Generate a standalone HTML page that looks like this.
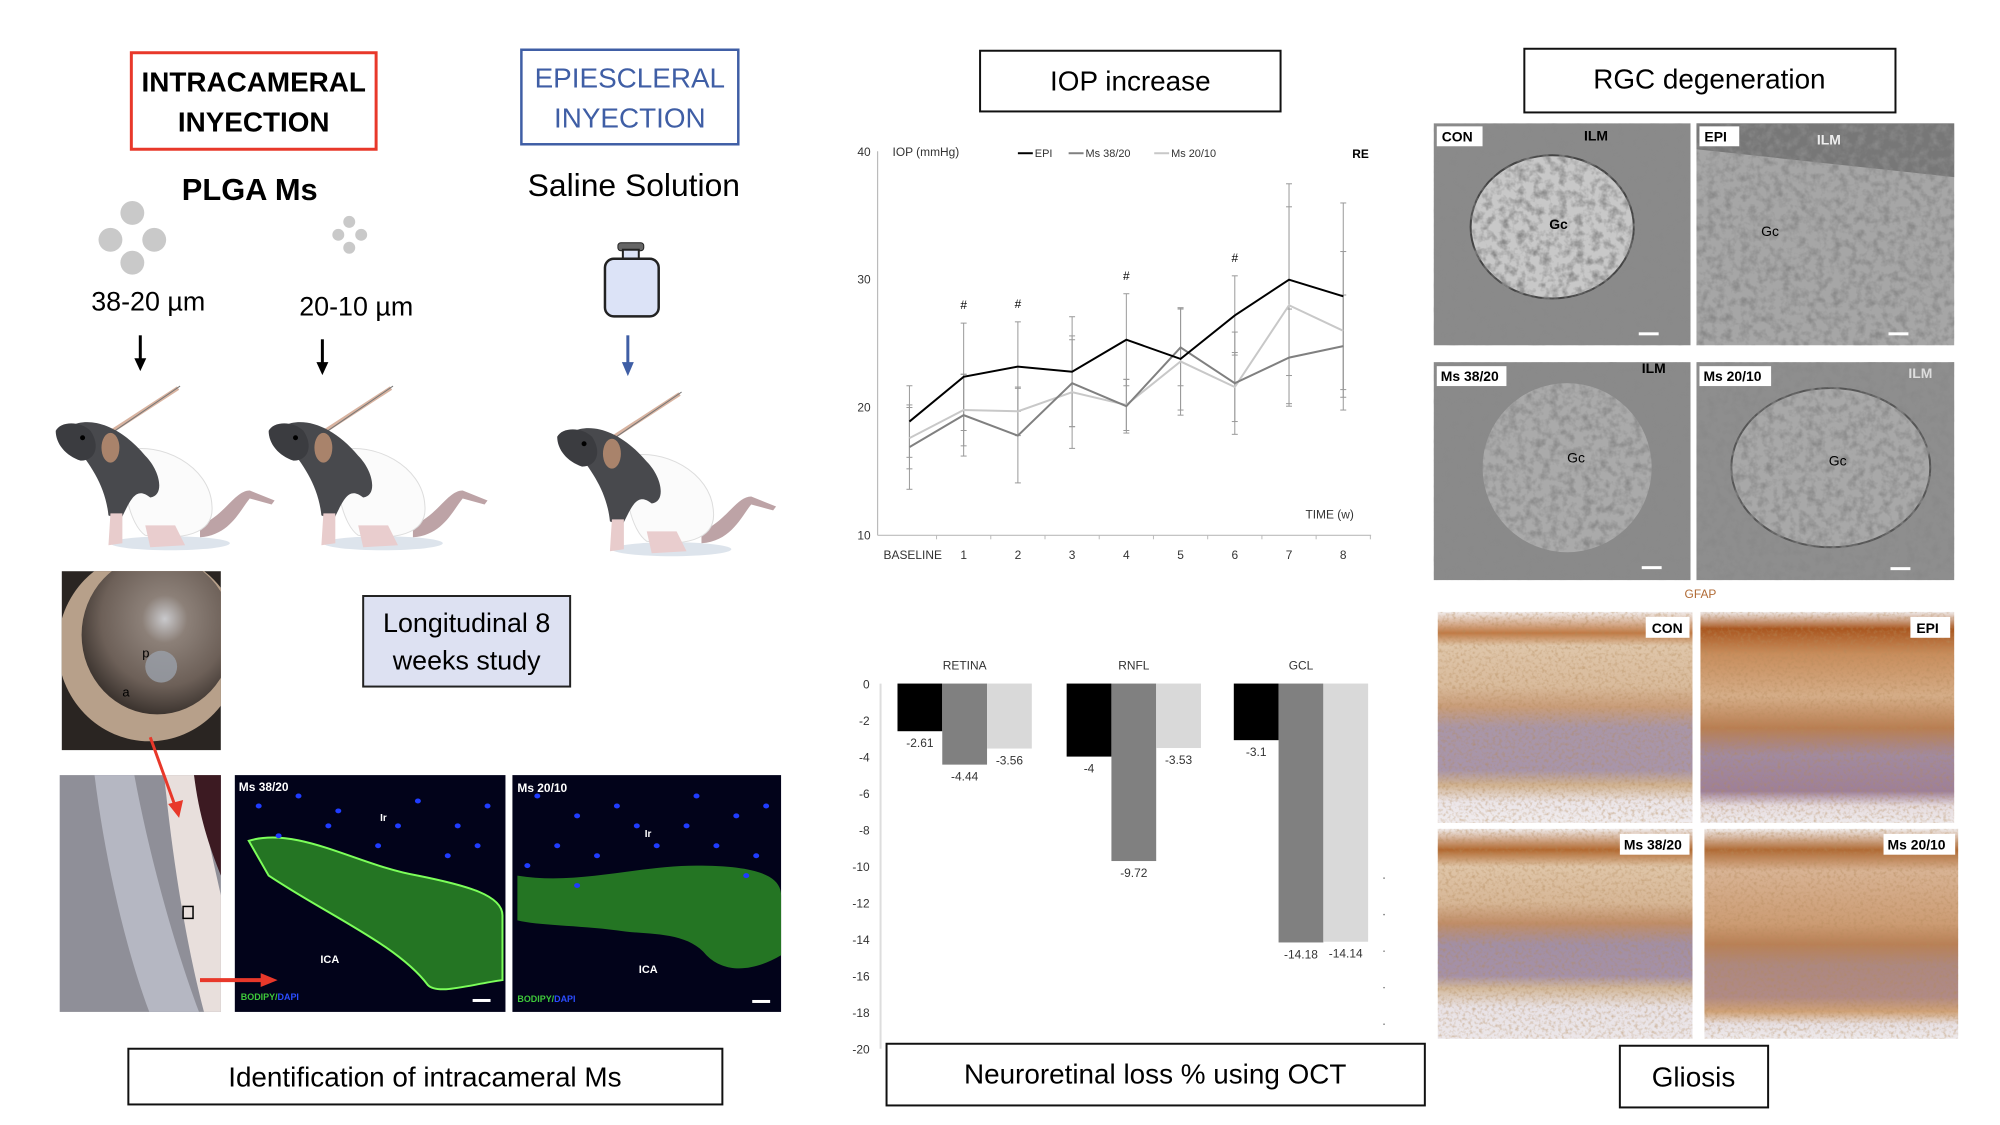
<!DOCTYPE html>
<html><head><meta charset="utf-8">
<style>
html,body{margin:0;padding:0;background:#fff;}
svg{display:block;font-family:"Liberation Sans",sans-serif;}
</style></head>
<body>
<svg id="root" width="2000" height="1125" viewBox="0 0 2000 1125">
<defs>
  <filter id="noiseGray" x="0" y="0" width="100%" height="100%">
    <feTurbulence type="fractalNoise" baseFrequency="0.12" numOctaves="3" seed="3"/>
    <feColorMatrix type="matrix" values="0 0 0 0 0.25  0 0 0 0 0.25  0 0 0 0 0.25  2.2 0 0 0 -0.9"/>
    <feComposite in2="SourceGraphic" operator="in"/>
  </filter>
  <filter id="noiseFine" x="0" y="0" width="100%" height="100%">
    <feTurbulence type="fractalNoise" baseFrequency="0.3" numOctaves="2" seed="7"/>
    <feColorMatrix type="matrix" values="0 0 0 0 0.45  0 0 0 0 0.25  0 0 0 0 0.1  1.2 0 0 0 -0.55"/>
    <feComposite in2="SourceGraphic" operator="in"/>
  </filter>
  <clipPath id="eyeClip"><rect x="62" y="574" width="160" height="180"/></clipPath>
  <linearGradient id="ihcCon" x1="0" y1="0" x2="0" y2="1">
    <stop offset="0" stop-color="#f2eeee"/><stop offset="0.1" stop-color="#c07a45"/>
    <stop offset="0.16" stop-color="#dfc6aa"/><stop offset="0.35" stop-color="#d9bb9c"/>
    <stop offset="0.45" stop-color="#c99d7a"/><stop offset="0.55" stop-color="#a996a8"/>
    <stop offset="0.75" stop-color="#a895aa"/><stop offset="0.82" stop-color="#d1b392"/>
    <stop offset="0.9" stop-color="#ebe5e8"/><stop offset="1" stop-color="#f0ecee"/>
  </linearGradient>
  <linearGradient id="ihcEpi" x1="0" y1="0" x2="0" y2="1">
    <stop offset="0" stop-color="#f0ecec"/><stop offset="0.08" stop-color="#a9561f"/>
    <stop offset="0.2" stop-color="#c88d5c"/><stop offset="0.4" stop-color="#d5ad88"/>
    <stop offset="0.55" stop-color="#b97e52"/><stop offset="0.68" stop-color="#a18aa0"/>
    <stop offset="0.85" stop-color="#9e8098"/><stop offset="0.92" stop-color="#e6dcdf"/>
    <stop offset="1" stop-color="#eeeaec"/>
  </linearGradient>
  <linearGradient id="ihcMs20" x1="0" y1="0" x2="0" y2="1">
    <stop offset="0" stop-color="#f0ecec"/><stop offset="0.1" stop-color="#b06a34"/>
    <stop offset="0.2" stop-color="#d8b394"/><stop offset="0.45" stop-color="#cc9c74"/>
    <stop offset="0.55" stop-color="#b98056"/><stop offset="0.65" stop-color="#ad8880"/>
    <stop offset="0.8" stop-color="#b08a86"/><stop offset="0.87" stop-color="#d0a277"/>
    <stop offset="0.93" stop-color="#e7e0e3"/><stop offset="1" stop-color="#eeeaec"/>
  </linearGradient>
  <linearGradient id="ihcMs38" x1="0" y1="0" x2="0" y2="1">
    <stop offset="0" stop-color="#f0ecec"/><stop offset="0.1" stop-color="#b2682f"/>
    <stop offset="0.18" stop-color="#dfc5a8"/><stop offset="0.35" stop-color="#d7b797"/>
    <stop offset="0.45" stop-color="#c08d68"/><stop offset="0.55" stop-color="#a28fa5"/>
    <stop offset="0.7" stop-color="#a591a8"/><stop offset="0.76" stop-color="#d3b99c"/>
    <stop offset="0.85" stop-color="#e8e2e6"/><stop offset="1" stop-color="#ece7ea"/>
  </linearGradient>
  <radialGradient id="eyeG" cx="0.55" cy="0.4" r="0.6">
    <stop offset="0" stop-color="#c9c9cc"/><stop offset="0.25" stop-color="#8c8078"/>
    <stop offset="0.7" stop-color="#6d6058"/><stop offset="1" stop-color="#3d3530"/>
  </radialGradient>
  <g id="rat">
    <line x1="62" y1="45" x2="128" y2="2" stroke="#d8b3a0" stroke-width="4"/>
    <line x1="60" y1="48" x2="130" y2="0" stroke="#777" stroke-width="1"/>
    <ellipse cx="120" cy="158" rx="60" ry="7" fill="#dde4ec"/>
    <path d="M150 140 C175 130 185 105 200 105 L225 115 L222 119 L200 113 C190 125 180 150 150 152 Z" fill="#bda3a6"/>
    <path d="M75 65 C110 55 160 80 162 120 C165 150 130 155 95 150 C80 140 70 100 75 65 Z" fill="#fbfbfb" stroke="#ddd"/>
    <path d="M20 40 C40 30 70 40 95 70 C110 85 115 110 100 112 C85 100 80 115 70 135 L58 130 C55 100 40 80 25 60 Z" fill="#48494d"/>
    <path d="M5 45 C10 35 30 35 40 45 C50 60 45 75 30 75 C15 70 5 58 5 45Z" fill="#3b3c40"/>
    <ellipse cx="60" cy="62" rx="9" ry="15" fill="#a9836b"/>
    <path d="M60 128 L72 128 L72 158 L58 160 Z" fill="#e8cccc"/>
    <path d="M95 140 L125 140 L135 160 L100 162 Z" fill="#e9cdce"/>
    <circle cx="32" cy="52" r="2.5" fill="#000"/>
  </g>
</defs>
<g transform="scale(0.995)">

<!-- LEFT PANEL -->
<g>
  <rect x="132" y="53" width="246" height="97" fill="#fff" stroke="#e8382a" stroke-width="3"/>
  <text x="255" y="92" text-anchor="middle" font-size="28" font-weight="bold">INTRACAMERAL</text>
  <text x="255" y="132" text-anchor="middle" font-size="28" font-weight="bold">INYECTION</text>
  <rect x="524" y="50" width="218" height="95" fill="#fff" stroke="#3f5ea5" stroke-width="2.5"/>
  <text x="633" y="88" text-anchor="middle" font-size="28" fill="#3f5ea5">EPIESCLERAL</text>
  <text x="633" y="128" text-anchor="middle" font-size="28" fill="#3f5ea5">INYECTION</text>
  <text x="251" y="201" text-anchor="middle" font-size="31" font-weight="bold">PLGA Ms</text>
  <text x="637" y="197" text-anchor="middle" font-size="32">Saline Solution</text>
  <g fill="#c9c9c9">
    <circle cx="133" cy="214" r="12"/><circle cx="111" cy="241" r="12"/><circle cx="155" cy="241" r="12"/><circle cx="133" cy="264" r="12"/>
  </g>
  <g fill="#c9c9c9">
    <circle cx="351" cy="223" r="6"/><circle cx="340" cy="236" r="6"/><circle cx="363" cy="236" r="6"/><circle cx="351" cy="249" r="6"/>
  </g>
  <text x="149" y="312" text-anchor="middle" font-size="27">38-20 µm</text>
  <text x="358" y="317" text-anchor="middle" font-size="27">20-10 µm</text>
  <g>
    <rect x="621" y="244" width="26" height="8" rx="3" fill="#666" stroke="#222"/>
    <rect x="626" y="251" width="16" height="10" fill="#dce3f7" stroke="#222" stroke-width="2"/>
    <rect x="608" y="260" width="54" height="58" rx="9" fill="#dce3f7" stroke="#222" stroke-width="2.5"/>
  </g>
  <g>
    <line x1="141" y1="337" x2="141" y2="362" stroke="#000" stroke-width="3"/><polygon points="135,360 147,360 141,373" fill="#000"/>
    <line x1="324" y1="341" x2="324" y2="366" stroke="#000" stroke-width="3"/><polygon points="318,364 330,364 324,377" fill="#000"/>
    <line x1="631" y1="337" x2="631" y2="366" stroke="#3f5ea5" stroke-width="3"/><polygon points="625,364 637,364 631,378" fill="#3f5ea5"/>
  </g>
  <use href="#rat" x="51" y="388"/>
  <use href="#rat" x="265" y="388"/>
  <use href="#rat" x="555" y="394"/>

  <g clip-path="url(#eyeClip)">
    <rect x="62" y="574" width="160" height="180" fill="#2a2522"/>
    <ellipse cx="150" cy="650" rx="92" ry="95" fill="#b7a08a"/>
    <ellipse cx="158" cy="638" rx="76" ry="80" fill="url(#eyeG)"/>
    <circle cx="162" cy="670" r="16" fill="#9aa0aa" opacity="0.8"/>
    <text x="143" y="661" font-size="13">p</text>
    <text x="123" y="700" font-size="13">a</text>
  </g>
  <g>
    <rect x="60" y="779" width="162" height="238" fill="#8f8f98"/>
    <path d="M95 779 L135 779 C150 860 175 950 200 1017 L150 1017 C125 950 105 860 95 779Z" fill="#b5b7c2"/>
    <path d="M165 779 L195 779 L222 900 L222 1017 L205 1017 C190 960 175 880 165 779Z" fill="#e8dfdc"/>
    <path d="M195 779 L222 779 L222 880 C210 850 200 820 195 779Z" fill="#3c1a22"/>
    <rect x="184" y="911" width="10" height="12" fill="none" stroke="#000" stroke-width="1.5"/>
  </g>
  <g>
    <rect x="236" y="779" width="272" height="238" fill="#02031a"/>
    <path d="M250 845 C300 830 360 870 420 880 C470 890 505 900 505 920 L505 985 C470 990 440 1000 430 990 C400 950 330 920 270 880 Z" fill="#2a8a26" opacity="0.85"/>
    <path d="M250 845 C300 830 360 870 420 880 C470 890 505 900 505 920 L505 985 C470 990 440 1000 430 990 C400 950 330 920 270 880 Z" fill="none" stroke="#7cff5a" stroke-width="2"/>
    <text x="240" y="795" font-size="12" font-weight="bold" fill="#fff">Ms 38/20</text>
    <text x="382" y="825" font-size="10" font-weight="bold" fill="#fff">Ir</text>
    <text x="322" y="968" font-size="11" font-weight="bold" fill="#fff">ICA</text>
    <text x="242" y="1005" font-size="9" font-weight="bold" fill="#3ec83a">BODIPY/<tspan fill="#2b4dff">DAPI</tspan></text>
    <rect x="475" y="1004" width="18" height="3" fill="#fff"/>
  </g>
  <g>
    <rect x="515" y="779" width="270" height="238" fill="#02031a"/>
    <path d="M520 880 C580 890 640 870 700 870 C760 870 785 880 785 900 L785 960 C760 975 730 980 710 960 C690 935 650 940 620 935 C580 930 540 930 520 925 Z" fill="#2a8a26" opacity="0.85"/>
    <text x="520" y="796" font-size="12" font-weight="bold" fill="#fff">Ms 20/10</text>
    <text x="648" y="841" font-size="10" font-weight="bold" fill="#fff">Ir</text>
    <text x="642" y="978" font-size="11" font-weight="bold" fill="#fff">ICA</text>
    <text x="520" y="1007" font-size="9" font-weight="bold" fill="#3ec83a">BODIPY/<tspan fill="#2b4dff">DAPI</tspan></text>
    <rect x="756" y="1005" width="18" height="3" fill="#fff"/>
  </g>
  <g id="dapi"></g>
  <g>
    <line x1="151" y1="741" x2="176" y2="810" stroke="#e8382a" stroke-width="3"/><polygon points="169,808 184,804 180,822" fill="#e8382a"/>
    <line x1="201" y1="985" x2="264" y2="985" stroke="#e8382a" stroke-width="4"/><polygon points="262,978 279,985 262,992" fill="#e8382a"/>
  </g>
  <rect x="365" y="599" width="208" height="91" fill="#dde1f2" stroke="#222" stroke-width="2"/>
  <text x="469" y="635" text-anchor="middle" font-size="27">Longitudinal 8</text>
  <text x="469" y="673" text-anchor="middle" font-size="27">weeks study</text>
  <rect x="129" y="1054" width="597" height="56" fill="#fff" stroke="#111" stroke-width="2"/>
  <text x="427" y="1092" text-anchor="middle" font-size="28">Identification of intracameral Ms</text>
</g>

<!-- MIDDLE: IOP chart -->
<rect x="985" y="51" width="302" height="61" fill="#fff" stroke="#111" stroke-width="2"/>
<text x="1136" y="91" text-anchor="middle" font-size="28">IOP increase</text>
<g id="iopChart"></g>

<rect x="891" y="1049" width="541" height="62" fill="#fff" stroke="#111" stroke-width="2"/>
<text x="1161" y="1089" text-anchor="middle" font-size="28">Neuroretinal loss % using OCT</text>
<g id="barChart"></g>

<!-- RIGHT PANEL -->
<rect x="1532" y="49" width="373" height="64" fill="#fff" stroke="#111" stroke-width="2"/>
<text x="1718" y="89" text-anchor="middle" font-size="28">RGC degeneration</text>
<g>
  <g>
    <rect x="1441" y="124" width="258" height="223" fill="#8a8a8a"/>
    <ellipse cx="1560" cy="228" rx="82" ry="72" fill="#c8c8c8" stroke="#444" stroke-width="2"/>
    <rect x="1441" y="124" width="258" height="223" fill="#fff" filter="url(#noiseGray)"/>
    <rect x="1444" y="127" width="46" height="20" fill="#fff"/><text x="1449" y="142" font-size="14" font-weight="bold">CON</text>
    <text x="1592" y="141" font-size="14" font-weight="bold">ILM</text><text x="1557" y="230" font-size="14" font-weight="bold">Gc</text>
    <rect x="1647" y="334" width="20" height="3" fill="#fff"/>
  </g>
  <g>
    <rect x="1705" y="124" width="259" height="223" fill="#a6a6a6"/>
    <path d="M1705 124 L1964 124 L1964 178 L1705 150 Z" fill="#777"/>
    <rect x="1705" y="124" width="259" height="223" fill="#fff" filter="url(#noiseGray)"/>
    <rect x="1708" y="127" width="40" height="20" fill="#fff"/><text x="1713" y="142" font-size="14" font-weight="bold">EPI</text>
    <text x="1826" y="145" font-size="14" font-weight="bold" fill="#eee">ILM</text><text x="1770" y="237" font-size="14">Gc</text>
    <rect x="1898" y="334" width="20" height="3" fill="#fff"/>
  </g>
  <g>
    <rect x="1441" y="364" width="258" height="219" fill="#8a8a8a"/>
    <ellipse cx="1575" cy="470" rx="85" ry="85" fill="#aaaaaa"/>
    <rect x="1441" y="364" width="258" height="219" fill="#fff" filter="url(#noiseGray)"/>
    <rect x="1444" y="368" width="70" height="20" fill="#fff"/><text x="1448" y="383" font-size="14" font-weight="bold">Ms 38/20</text>
    <text x="1650" y="375" font-size="14" font-weight="bold">ILM</text><text x="1575" y="465" font-size="14">Gc</text>
    <rect x="1650" y="569" width="20" height="3" fill="#fff"/>
  </g>
  <g>
    <rect x="1705" y="364" width="259" height="219" fill="#8e8e8e"/>
    <ellipse cx="1840" cy="470" rx="100" ry="80" fill="#a8a8a8" stroke="#555" stroke-width="2"/>
    <rect x="1705" y="364" width="259" height="219" fill="#fff" filter="url(#noiseGray)"/>
    <rect x="1708" y="368" width="72" height="20" fill="#fff"/><text x="1712" y="383" font-size="14" font-weight="bold">Ms 20/10</text>
    <text x="1918" y="380" font-size="14" font-weight="bold" fill="#ddd">ILM</text><text x="1838" y="468" font-size="14">Gc</text>
    <rect x="1900" y="570" width="20" height="3" fill="#fff"/>
  </g>
</g>
<text x="1709" y="601" text-anchor="middle" font-size="12" fill="#b06a34">GFAP</text>
<g>
  <g>
    <rect x="1445" y="615" width="256" height="212" fill="url(#ihcCon)"/>
    <rect x="1445" y="615" width="256" height="212" fill="#fff" filter="url(#noiseFine)"/>
    <rect x="1654" y="620" width="44" height="21" fill="#fff"/><text x="1660" y="636" font-size="14" font-weight="bold">CON</text>
  </g>
  <g>
    <rect x="1709" y="615" width="255" height="212" fill="url(#ihcEpi)"/>
    <rect x="1709" y="615" width="255" height="212" fill="#fff" filter="url(#noiseFine)"/>
    <rect x="1920" y="620" width="40" height="21" fill="#fff"/><text x="1926" y="636" font-size="14" font-weight="bold">EPI</text>
  </g>
  <g>
    <rect x="1445" y="833" width="256" height="211" fill="url(#ihcMs38)"/>
    <rect x="1445" y="833" width="256" height="211" fill="#fff" filter="url(#noiseFine)"/>
    <rect x="1628" y="838" width="70" height="21" fill="#fff"/><text x="1632" y="854" font-size="14" font-weight="bold">Ms 38/20</text>
  </g>
  <g>
    <rect x="1713" y="833" width="255" height="211" fill="url(#ihcMs20)"/>
    <rect x="1713" y="833" width="255" height="211" fill="#fff" filter="url(#noiseFine)"/>
    <rect x="1893" y="838" width="72" height="21" fill="#fff"/><text x="1897" y="854" font-size="14" font-weight="bold">Ms 20/10</text>
  </g>
</g>
<rect x="1628" y="1051" width="149" height="62" fill="#fff" stroke="#111" stroke-width="2"/>
<text x="1702" y="1092" text-anchor="middle" font-size="28">Gliosis</text>
</g>
</svg>

<script>
const NS = "http://www.w3.org/2000/svg";
// IOP line chart data
const weeks = ["BASELINE","1","2","3","4","5","6","7","8"];
const epiValues = [18.9,22.4,23.2,22.8,25.3,23.8,27.2,30.0,28.7];
const ms3820Values = [16.9,19.4,17.8,21.9,20.1,24.7,21.9,23.9,24.8];
const ms2010Values = [17.6,19.8,19.7,21.2,20.2,23.6,21.6,28.0,26.0];
const epiErrors = [2.8,4.2,3.5,4.3,3.6,4.0,3.1,7.5,7.3];
const ms3820Errors = [3.3,3.2,3.7,3.4,2.1,3.0,4.0,3.8,4.0];
const ms2010Errors = [2.4,2.8,1.9,4.4,2.0,4.2,2.7,7.7,6.2];
const yTicks = [10,20,30,40];
const sigWeeks = [1,2,4,6];
// OCT bar chart data
const layers = ["RETINA","RNFL","GCL"];
const epiLoss = [-2.61,-4,-3.1];
const ms3820Loss = [-4.44,-9.72,-14.18];
const ms2010Loss = [-3.56,-3.53,-14.14];
const barTicks = [0,-2,-4,-6,-8,-10,-12,-14,-16,-18,-20];

function mk(tag, attrs, parent, txt){
  const e = document.createElementNS(NS, tag);
  for (const k in attrs) e.setAttribute(k, attrs[k]);
  if (txt !== undefined) e.textContent = txt;
  parent.appendChild(e);
  return e;
}

// ---- IOP chart ----
(function(){
  const g = document.getElementById('iopChart');
  const x0 = 914, dx = 54.5;
  const xS = i => x0 + i*dx;
  const yS = v => 538 - (v-10)*(538-152.6)/30;
  let e = mk('line',{x1:882,y1:152,x2:882,y2:538,stroke:'#bbb','stroke-width':1.2},g);
   
  e = mk('line',{x1:882,y1:538,x2:1378,y2:538,stroke:'#bbb','stroke-width':1.2},g);
   
  yTicks.forEach(t=>{
    const l = mk('text',{x:875,y:yS(t)+4,'text-anchor':'end','font-size':12,fill:'#333'},g,String(t));
     
  });
  weeks.forEach((w,i)=>{
    const l = mk('text',{x:i===0?xS(i)-26:xS(i),y:562,'text-anchor':i===0?'start':'middle','font-size':12,fill:'#333'},g,w);
     
    mk('line',{x1:xS(i)+dx/2,y1:538,x2:xS(i)+dx/2,y2:542,stroke:'#bbb'},g);
  });
  const series = [[ms2010Values,ms2010Errors,'#c8c8c8','ms-20-10'],[ms3820Values,ms3820Errors,'#808080','ms-38-20'],[epiValues,epiErrors,'#000','epi']];
  series.forEach(([vals,errs,col,nm])=>{
    vals.forEach((v,i)=>{
      const b = mk('line',{x1:xS(i),y1:yS(v+errs[i]),x2:xS(i),y2:yS(v-errs[i]),stroke:'#999','stroke-width':1},g);
       
      mk('line',{x1:xS(i)-3,y1:yS(v+errs[i]),x2:xS(i)+3,y2:yS(v+errs[i]),stroke:'#999'},g);
      mk('line',{x1:xS(i)-3,y1:yS(v-errs[i]),x2:xS(i)+3,y2:yS(v-errs[i]),stroke:'#999'},g);
    });
  });
  series.forEach(([vals,errs,col,nm])=>{
    const p = mk('polyline',{points:vals.map((v,i)=>xS(i)+','+yS(v)).join(' '),fill:'none',stroke:col,'stroke-width':2},g);
     
  });
  sigWeeks.forEach(i=>{
    const top = yS(epiValues[i]+epiErrors[i]);
    const s = mk('text',{x:xS(i),y:top-14,'text-anchor':'middle','font-size':12},g,'#');
     
  });
  mk('text',{x:897,y:157,'font-size':12,fill:'#333'},g,'IOP (mmHg)');
  const leg = [['EPI','#000',1023],['Ms 38/20','#808080',1074],['Ms 20/10','#c8c8c8',1160]];
  leg.forEach(([t,c,x])=>{
    const l = mk('line',{x1:x,y1:154,x2:x+15,y2:154,stroke:c,'stroke-width':2},g);
     
    const tx = mk('text',{x:x+17,y:158,'font-size':11,fill:'#333'},g,t);
     
  });
  mk('text',{x:1359,y:159,'font-size':12,'font-weight':'bold'},g,'RE');
  mk('text',{x:1312,y:521,'font-size':12,fill:'#333'},g,'TIME (w)');
})();

// ---- OCT bar chart ----
(function(){
  const g = document.getElementById('barChart');
  const yS = v => 687 - v*(1054-687)/20;
  const groupX = [902,1072,1240], bw = 45;
  let e = mk('line',{x1:885,y1:687,x2:885,y2:1054,stroke:'#ddd','stroke-width':2},g);
   
  barTicks.forEach(t=>{
    const l = mk('text',{x:874,y:yS(t)+5,'text-anchor':'end','font-size':12,fill:'#333'},g,String(t));
     
  });
  barTicks.slice(5,10).forEach(t=>{ mk('circle',{cx:1391,cy:yS(t)+12,r:0.8,fill:'#777'},g); });
  const series = [[epiLoss,'#000','epi'],[ms3820Loss,'#808080','ms-38-20'],[ms2010Loss,'#d9d9d9','ms-20-10']];
  layers.forEach((L,gi)=>{
    const t = mk('text',{x:groupX[gi]+bw*1.5,y:673,'text-anchor':'middle','font-size':12,fill:'#333'},g,L);
     
    series.forEach(([vals,col,nm],si)=>{
      const x = groupX[gi]+si*bw, v = vals[gi];
      const r = mk('rect',{x:x,y:yS(0),width:bw,height:yS(v)-yS(0),fill:col},g);
       
      const vl = mk('text',{x:x+bw/2,y:yS(v)+16,'text-anchor':'middle','font-size':12,fill:'#333'},g,String(v));
       
    });
  });
})();

// DAPI nuclei (decorative)
(function(){
  const g = document.getElementById('dapi');
  const pts = [[260,810],[300,800],[340,815],[420,805],[460,830],[490,810],[280,840],[380,850],[450,860],[330,830],[480,850],[400,830],
    [540,800],[580,820],[620,810],[700,800],[740,820],[770,810],[560,850],[600,860],[660,850],[720,850],[760,860],[640,830],[690,830],[530,870],[750,880],[580,890]];
  pts.forEach(([x,y])=>{ mk('ellipse',{cx:x,cy:y,rx:3,ry:2.5,fill:'#1f3cff'},g); });
})();
</script>
</body></html>
